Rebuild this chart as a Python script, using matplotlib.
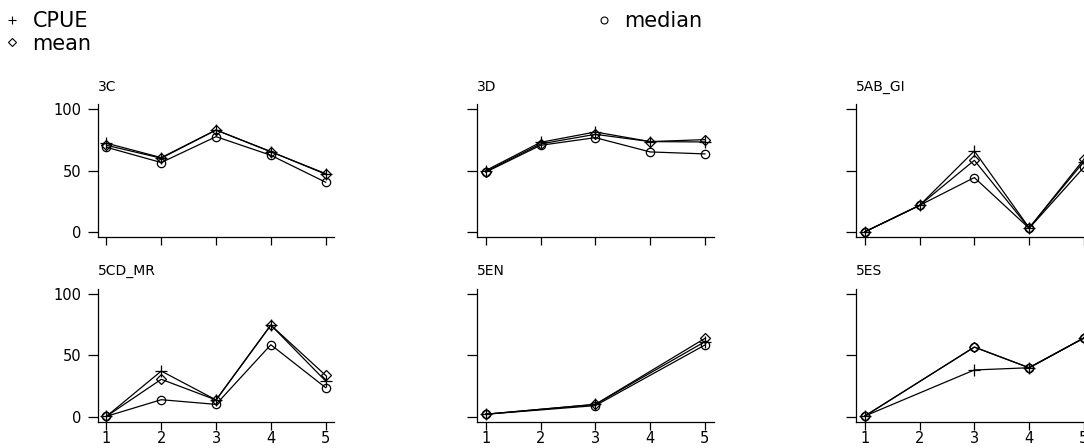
import matplotlib
matplotlib.use('Agg')
import matplotlib.pyplot as plt
from matplotlib.lines import Line2D

plt.rcParams['font.family'] = ['DejaVu Sans']

# values, one list per series and panel
panels = ['3C', '3D', '5AB_GI', '5CD_MR', '5EN', '5ES']
x_full = [1, 2, 3, 4, 5]
x_en = [1, 3, 5]
x_es = [1, 3, 4, 5]

cpue_3c = [72.5, 60.8, 83.2, 65.7, 47.3]
mean_3c = [70.8, 60.3, 83.2, 65.5, 47.8]
median_3c = [69.2, 56.8, 77.8, 62.7, 40.8]

cpue_3d = [50.3, 73.2, 81.6, 73.8, 73.5]
mean_3d = [49.5, 71.9, 79.7, 73.8, 75.4]
median_3d = [49.0, 70.8, 77.0, 65.4, 63.8]

cpue_5ab = [0.5, 22.0, 66.2, 3.8, 57.6]
mean_5ab = [0.5, 22.0, 58.6, 3.6, 59.5]
median_5ab = [0.5, 22.0, 44.6, 3.4, 53.0]

cpue_5cd = [0.3, 37.1, 13.6, 74.5, 29.0]
mean_5cd = [0.3, 30.4, 13.6, 74.5, 33.6]
median_5cd = [0.3, 13.8, 10.0, 58.5, 23.6]

cpue_5en = [2.0, 10.0, 61.0]
mean_5en = [2.0, 10.0, 63.7]
median_5en = [2.0, 9.0, 58.3]

cpue_5es = [0.5, 38.0, 39.8, 64.0]
mean_5es = [0.5, 56.6, 39.8, 64.0]
median_5es = [0.5, 56.6, 39.8, 64.0]

xs = [x_full, x_full, x_full, x_full, x_en, x_es]
cpue = [cpue_3c, cpue_3d, cpue_5ab, cpue_5cd, cpue_5en, cpue_5es]
mean = [mean_3c, mean_3d, mean_5ab, mean_5cd, mean_5en, mean_5es]
median = [median_3c, median_3d, median_5ab, median_5cd, median_5en, median_5es]

W, H = 1084, 448
fig = plt.figure(figsize=(W / 100, H / 100), dpi=100)

lefts = [97.7, 477, 856]
width = 236.7
rows = [(104.4, 237.4), (288.8, 421.6)]

for i, name in enumerate(panels):
    r, c = divmod(i, 3)
    top, bot = rows[r]
    ax = fig.add_axes([lefts[c] / W, 1 - bot / H, width / W, (bot - top) / H])
    kw = dict(color='black', lw=0.9, mfc='none', mec='black', mew=0.9)
    ax.plot(xs[i], median[i], marker='o', ms=6, **kw)
    ax.plot(xs[i], mean[i], marker='D', ms=4.8, **kw)
    ax.plot(xs[i], cpue[i], marker='+', ms=8.5, **kw)
    ax.set_xlim(0.84, 5.16)
    ax.set_ylim(-4, 104)
    ax.set_xticks(x_full)
    ax.set_yticks([0, 50, 100])
    for s in ['top', 'right']:
        ax.spines[s].set_visible(False)
    for s in ['left', 'bottom']:
        ax.spines[s].set_linewidth(0.9)
    ax.tick_params(axis='y', direction='out', length=7.5, width=0.9,
                   labelsize=10.5, pad=4, labelleft=(c == 0))
    ax.tick_params(axis='x', direction='out', length=6, width=0.9,
                   labelsize=10.5, pad=1, labelbottom=(r == 1))
    ax.set_title(name, loc='left', fontsize=10, pad=10)

h_cpue = Line2D([], [], ls='none', marker='+', ms=6, color='black', mew=0.8)
h_mean = Line2D([], [], ls='none', marker='D', ms=4, mfc='none', mec='black', mew=0.8)
h_median = Line2D([], [], ls='none', marker='o', ms=5, mfc='none', mec='black', mew=0.8)

fig.legend([h_cpue, h_mean], ['CPUE', 'mean'], loc='upper left',
           bbox_to_anchor=(-5 / W, 0.993), frameon=False, fontsize=15,
           handlelength=0.8, handletextpad=0.6, labelspacing=0.1,
           borderaxespad=0)
fig.legend([h_median], ['median'], loc='upper left',
           bbox_to_anchor=(587 / W, 0.993), frameon=False, fontsize=15,
           handlelength=0.8, handletextpad=0.6, borderaxespad=0)

fig.savefig('out.png', dpi=100)
